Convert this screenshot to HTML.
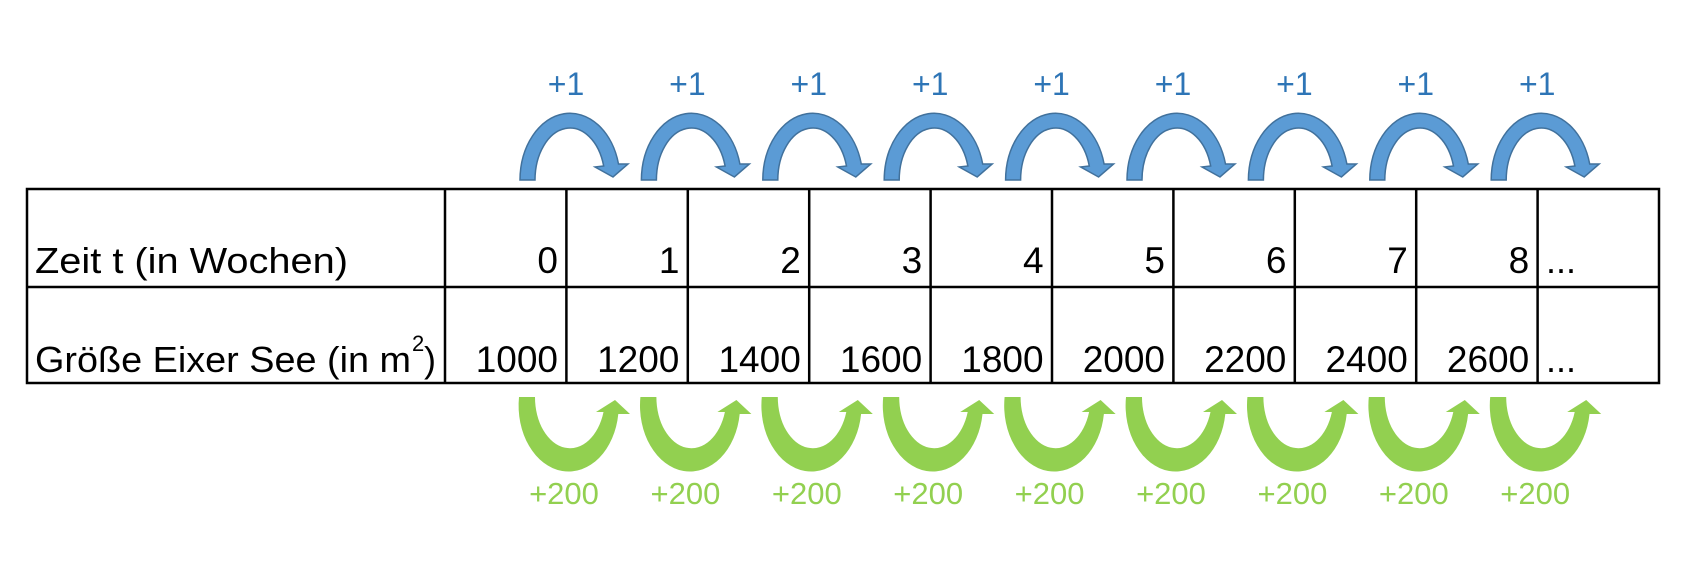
<!DOCTYPE html>
<html><head><meta charset="utf-8"><style>html,body{margin:0;padding:0;background:#fff}svg{display:block}</style></head>
<body>
<svg width="1700" height="584" viewBox="0 0 1700 584" xmlns="http://www.w3.org/2000/svg" font-family="Liberation Sans, sans-serif">
<defs>
<path id="b" d="M520,180 A50,67 0 0 1 618.5,164 L628,164 L613,177 L595,167 L603.7,166 A35,52 0 0 0 535,180 Z" fill="#5b9bd5" stroke="#41719c" stroke-width="1.5"/>
<path id="g" d="M519,397 A50,66 0 0 0 618.3,414 L630,414 L615,400 L596,412 L603.5,412 A35,51 0 0 1 535,397 Z" fill="#92d050"/>
</defs>
<g>
<use href="#b"/><use href="#b" x="121.4"/><use href="#b" x="242.8"/><use href="#b" x="364.2"/><use href="#b" x="485.6"/><use href="#b" x="607"/><use href="#b" x="728.4"/><use href="#b" x="849.8"/><use href="#b" x="971.2"/>
<use href="#g"/><use href="#g" x="121.4"/><use href="#g" x="242.8"/><use href="#g" x="364.2"/><use href="#g" x="485.6"/><use href="#g" x="607"/><use href="#g" x="728.4"/><use href="#g" x="849.8"/><use href="#g" x="971.2"/>
</g>
<g font-size="32" fill="#2e75b6" text-anchor="middle">
<text x="566" y="95">+1</text><text x="687.4" y="95">+1</text><text x="808.8" y="95">+1</text><text x="930.2" y="95">+1</text><text x="1051.6" y="95">+1</text><text x="1173" y="95">+1</text><text x="1294.4" y="95">+1</text><text x="1415.8" y="95">+1</text><text x="1537.2" y="95">+1</text>
</g>
<g font-size="31" fill="#92d050" text-anchor="middle">
<text x="564" y="504">+200</text><text x="685.4" y="504">+200</text><text x="806.8" y="504">+200</text><text x="928.2" y="504">+200</text><text x="1049.6" y="504">+200</text><text x="1171" y="504">+200</text><text x="1292.4" y="504">+200</text><text x="1413.8" y="504">+200</text><text x="1535.2" y="504">+200</text>
</g>
<g stroke="#000" stroke-width="2.5" fill="none">
<rect x="27" y="189" width="1632" height="194"/>
<line x1="27" y1="287" x2="1659" y2="287"/>
<line x1="445" y1="189" x2="445" y2="383"/>
<line x1="566.4" y1="189" x2="566.4" y2="383"/>
<line x1="687.8" y1="189" x2="687.8" y2="383"/>
<line x1="809.2" y1="189" x2="809.2" y2="383"/>
<line x1="930.6" y1="189" x2="930.6" y2="383"/>
<line x1="1052" y1="189" x2="1052" y2="383"/>
<line x1="1173.4" y1="189" x2="1173.4" y2="383"/>
<line x1="1294.8" y1="189" x2="1294.8" y2="383"/>
<line x1="1416.2" y1="189" x2="1416.2" y2="383"/>
<line x1="1537.6" y1="189" x2="1537.6" y2="383"/>
</g>
<g font-size="36" fill="#000">
<text x="35" y="273" textLength="313" lengthAdjust="spacingAndGlyphs">Zeit t (in Wochen)</text>
<text x="35" y="372" textLength="376" lengthAdjust="spacingAndGlyphs">Größe Eixer See (in m</text>
<text x="412" y="351" font-size="22">2</text>
<text x="424" y="372">)</text>
</g>
<g font-size="37" fill="#000" text-anchor="end">
<text x="558" y="273">0</text><text x="679.4" y="273">1</text><text x="800.8" y="273">2</text><text x="922.2" y="273">3</text><text x="1043.6" y="273">4</text><text x="1165" y="273">5</text><text x="1286.4" y="273">6</text><text x="1407.8" y="273">7</text><text x="1529.2" y="273">8</text>
<text x="558" y="372">1000</text><text x="679.4" y="372">1200</text><text x="800.8" y="372">1400</text><text x="922.2" y="372">1600</text><text x="1043.6" y="372">1800</text><text x="1165" y="372">2000</text><text x="1286.4" y="372">2200</text><text x="1407.8" y="372">2400</text><text x="1529.2" y="372">2600</text>
</g>
<g font-size="36" fill="#000">
<text x="1546" y="273">...</text><text x="1546" y="372">...</text>
</g>
</svg>
</body></html>
